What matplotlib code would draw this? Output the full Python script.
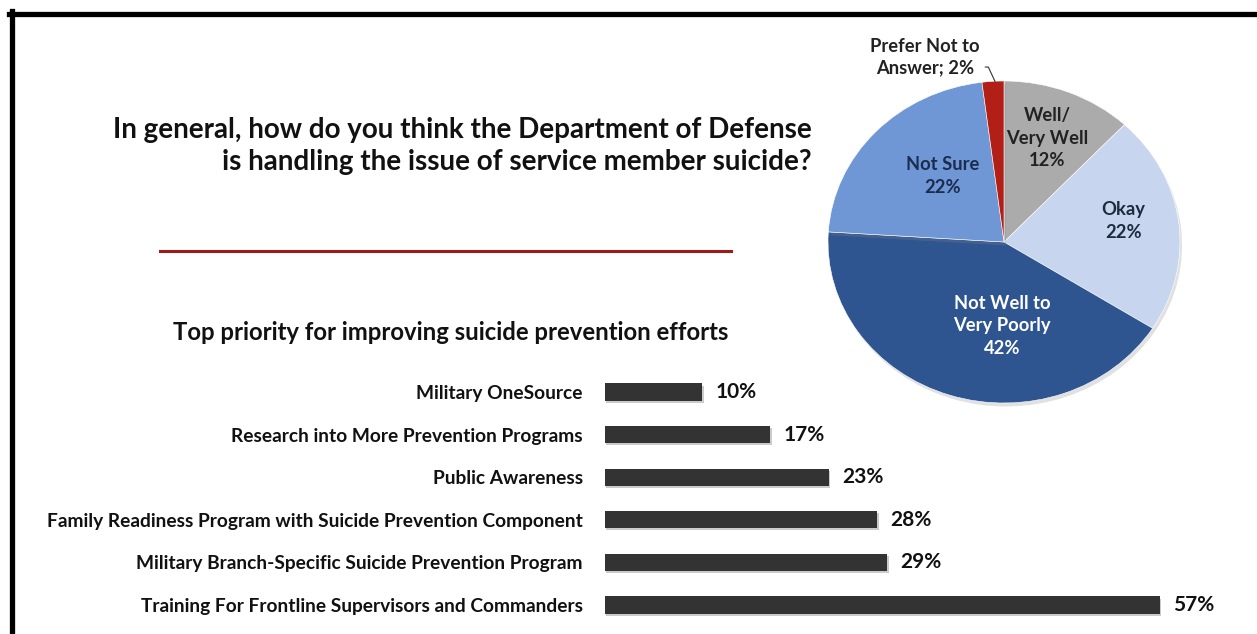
import matplotlib
matplotlib.use("Agg")
import matplotlib.pyplot as plt
from matplotlib.lines import Line2D
import matplotlib.patheffects as pe

# pie: how DoD is handling service member suicide (clockwise from 12 o'clock)
pie_labels = ["Well/\nVery Well\n12%", "Okay\n22%", "Not Well to\nVery Poorly\n42%",
              "Not Sure\n22%", "Prefer Not to\nAnswer; 2%"]
pie_values = [12, 22, 42, 22, 2]
pie_colors = ["#ABABAB", "#C7D6EE", "#2E5590", "#6F97D5", "#B11F16"]
pie_text_colors = ["#222222", "#1E2A40", "white", "#1C2C4E", "#222222"]

# bars: top priority for improving suicide prevention efforts
bar_labels = ["Military OneSource",
              "Research into More Prevention Programs",
              "Public Awareness",
              "Family Readiness Program with Suicide Prevention Component",
              "Military Branch-Specific Suicide Prevention Program",
              "Training For Frontline Supervisors and Commanders"]
bar_values = [10, 17, 23, 28, 29, 57]

W, H = 1257, 634
FONT = "Lato"

fig = plt.figure(figsize=(W / 100, H / 100), dpi=100)
fig.patch.set_facecolor("white")


def fx(x):
    return x / W


def fy(y):
    return 1 - y / H


# black frame on top and left
fig.add_artist(Line2D([fx(9), fx(W)], [fy(13.5), fy(13.5)], color="black", lw=3.8))
fig.add_artist(Line2D([fx(11.5), fx(11.5)], [fy(11), fy(H)], color="black", lw=3.8))

# titles
fig.text(fx(812), fy(130), "In general, how do you think the Department of Defense",
         ha="right", va="center", fontsize=20, fontweight="bold", family=FONT, color="#111111")
fig.text(fx(812), fy(162), "is handling the issue of service member suicide?",
         ha="right", va="center", fontsize=20, fontweight="bold", family=FONT, color="#111111")
fig.add_artist(Line2D([fx(160), fx(731)], [fy(251), fy(251)], color="#9E1B1B", lw=2.2))
fig.text(fx(173), fy(333), "Top priority for improving suicide prevention efforts",
         ha="left", va="center", fontsize=17.2, fontweight="bold", family=FONT, color="#111111")

# bar chart
bx0, bx1 = 605, 605 + 60 * 9.73
by0, by1 = 370.7, 626.3
ax = fig.add_axes([fx(bx0), fy(by1), (bx1 - bx0) / W, (by1 - by0) / H])
ypos = list(range(len(bar_values)))
bars = ax.barh(ypos, bar_values, height=0.4, color="#333333",
               path_effects=[pe.SimplePatchShadow(offset=(1, -1.5), shadow_rgbFace="#999999", alpha=0.5),
                             pe.Normal()])
ax.set_xlim(0, 60)
ax.set_ylim(len(bar_values) - 0.5, -0.5)
ax.set_yticks(ypos)
ax.set_yticklabels(bar_labels, fontsize=13.8, fontweight="bold", family=FONT, color="#111111")
ax.tick_params(axis="y", length=0, pad=16)
ax.set_xticks([])
for s in ax.spines.values():
    s.set_visible(False)
for b, v in zip(bars, bar_values):
    ax.annotate(f"{v}%", (b.get_width(), b.get_y() + b.get_height() / 2),
                xytext=(9.5, 0), textcoords="offset points", ha="left", va="center",
                fontsize=15, fontweight="bold", family=FONT, color="#111111")

# pie chart (drawn slightly wider than tall, like the original)
cx, cy, rx, ry = 1004, 242, 176, 161
pax = fig.add_axes([fx(cx - rx), fy(cy + ry), 2 * rx / W, 2 * ry / H])
wedges, _ = pax.pie(pie_values, colors=pie_colors, startangle=90, counterclock=False,
                    wedgeprops=dict(linewidth=0.4, edgecolor="white"))
for w in wedges:
    w.set_path_effects([pe.SimplePatchShadow(offset=(1.5, -2.5), shadow_rgbFace="#888888", alpha=0.25),
                        pe.Normal()])
pax.set_aspect("auto")
pax.set_xlim(-1, 1)
pax.set_ylim(-1, 1)

# label spots inside the pie (normalised pie coords)
label_spots = [(0.245, 0.645), (0.68, 0.13), (-0.01, -0.52), (-0.35, 0.41)]
for (lx, ly), lab, tc in zip(label_spots, pie_labels[:4], pie_text_colors[:4]):
    pax.text(lx, ly, lab, ha="center", va="center", fontsize=13.2, fontweight="bold",
             family=FONT, color=tc, linespacing=1.38)

# outside label for the small slice with a leader line
pax.annotate(pie_labels[4], xy=(-0.05, 0.995), xytext=(-0.45, 1.146),
             ha="center", va="center", fontsize=13.2, fontweight="bold", family=FONT,
             color="#222222", linespacing=1.3, annotation_clip=False,
             arrowprops=dict(arrowstyle="-", color="#333333", lw=0.8,
                             relpos=(1.0, 0.25), shrinkA=2, shrinkB=0,
                             connectionstyle="angle,angleA=0,angleB=115,rad=0"))

fig.savefig("out.png", dpi=100)
